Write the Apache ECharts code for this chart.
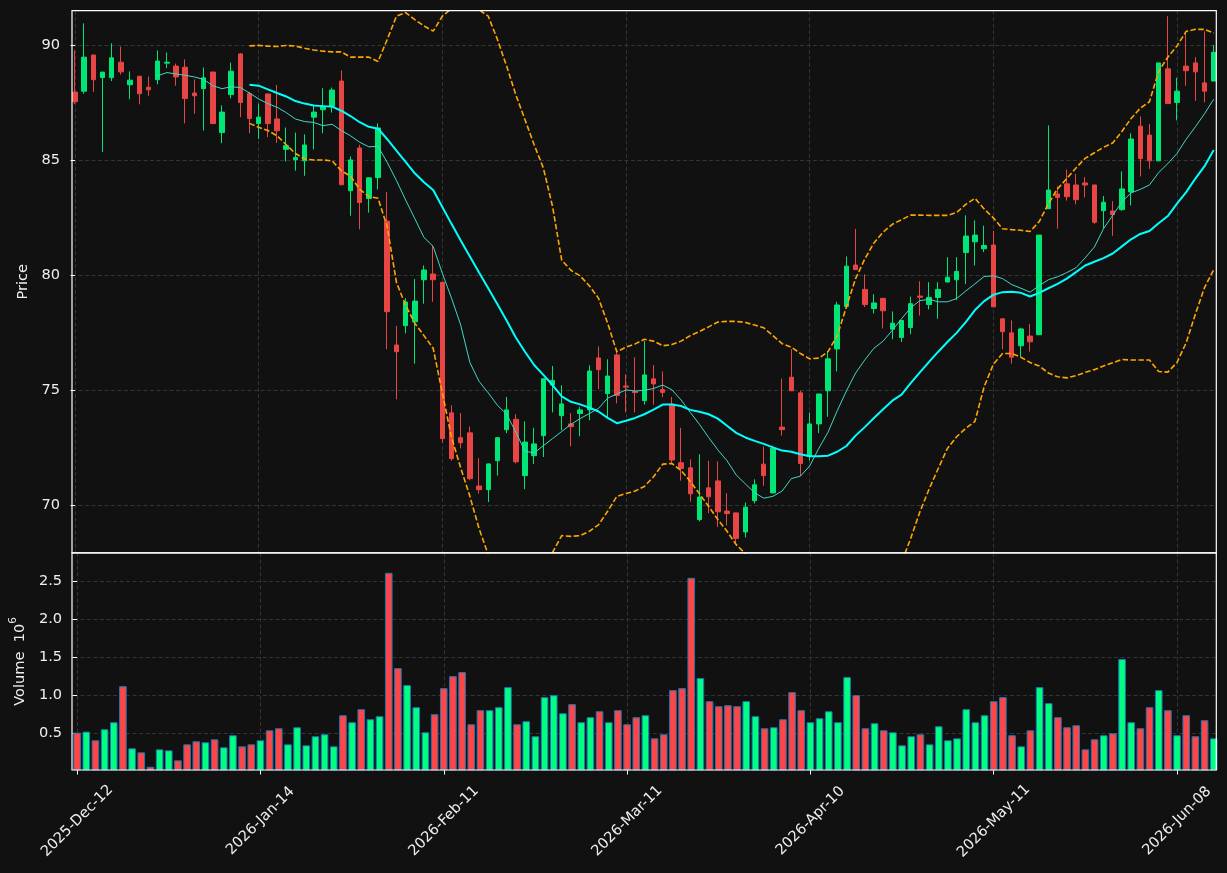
<!DOCTYPE html>
<html>
<head>
<meta charset="utf-8">
<script src="https://cdn.jsdelivr.net/npm/echarts@6/dist/echarts.min.js"></script>
<style>
  html, body { margin: 0; padding: 0; background: #111111; }
  #chart { width: 1227px; height: 873px; }
</style>
</head>
<body>
<div id="chart"></div>
<script>
// daily bars, one per trading day; labelled every 20 bars
const tickLabels = ['2025-Dec-12', '2026-Jan-14', '2026-Feb-11', '2026-Mar-11', '2026-Apr-10', '2026-May-11', '2026-Jun-08'];
const tickIdx = [0, 20, 40, 60, 80, 100, 120];

const opens = [
  87.97, 88.01, 89.58, 88.60, 88.60, 89.27, 88.29, 88.66, 88.18, 88.51,
  89.23, 89.10, 89.05, 87.93, 88.12, 88.84, 86.21, 87.86, 89.63, 87.90,
  86.60, 87.89, 86.80, 85.48, 85.03, 84.98, 86.88, 87.20, 87.36, 88.45,
  83.68, 85.54, 83.34, 84.25, 82.36, 76.97, 77.81, 77.98, 79.81, 80.06,
  79.70, 74.02, 72.94, 73.15, 70.84, 70.68, 71.94, 73.29, 73.74, 71.29,
  72.16, 73.03, 75.23, 73.90, 73.54, 73.99, 74.15, 76.41, 74.86, 76.54,
  75.19, 74.95, 74.55, 75.50, 75.03, 74.40, 71.85, 71.63, 69.38, 70.76,
  71.06, 69.75, 69.67, 68.84, 70.20, 71.79, 70.54, 73.40, 75.57, 74.89,
  72.13, 73.54, 74.98, 76.80, 78.65, 80.45, 79.39, 78.56, 79.00, 77.66,
  77.30, 77.73, 79.10, 78.73, 79.04, 79.71, 79.81, 80.99, 81.46, 81.16,
  81.32, 78.11, 77.50, 76.94, 77.36, 77.42, 82.90, 83.54, 83.98, 83.93,
  84.02, 83.93, 82.81, 82.80, 82.86, 83.63, 86.49, 86.10, 84.98, 88.98,
  87.52, 89.10, 89.24, 88.37, 88.45
];
const highs = [
  89.78, 90.96, 89.61, 88.84, 90.09, 89.95, 88.87, 88.66, 88.65, 89.78,
  89.69, 89.21, 89.39, 88.52, 89.04, 88.86, 87.39, 89.25, 89.67, 87.98,
  87.47, 87.90, 88.28, 86.43, 86.21, 86.13, 87.36, 88.14, 88.17, 88.91,
  85.17, 85.68, 84.26, 86.61, 83.63, 77.80, 79.01, 79.84, 80.43, 81.29,
  79.72, 74.35, 74.01, 73.43, 72.05, 71.82, 72.95, 74.71, 73.96, 73.65,
  73.37, 75.52, 76.06, 75.22, 74.01, 74.27, 76.09, 76.91, 76.35, 76.68,
  75.70, 76.44, 77.14, 76.10, 75.82, 74.71, 73.37, 72.00, 72.22, 71.94,
  71.91, 70.53, 69.68, 70.12, 71.13, 72.56, 72.59, 75.51, 76.79, 74.98,
  74.04, 74.85, 76.68, 78.85, 80.82, 82.02, 80.05, 79.18, 79.01, 78.43,
  78.05, 79.08, 79.74, 79.70, 79.70, 80.79, 80.79, 82.61, 82.39, 82.16,
  81.94, 78.12, 78.04, 77.72, 77.89, 81.76, 86.52, 83.87, 84.60, 84.41,
  84.27, 83.94, 83.45, 83.23, 84.52, 86.18, 86.91, 86.58, 89.25, 91.27,
  88.59, 90.54, 89.49, 90.61, 90.02
];
const lows = [
  87.45, 87.90, 87.98, 85.37, 88.45, 88.73, 87.66, 87.44, 87.81, 88.31,
  89.01, 88.25, 86.61, 87.03, 86.30, 86.58, 85.75, 87.70, 86.88, 86.18,
  85.93, 86.01, 85.76, 84.95, 84.55, 84.33, 85.48, 86.18, 87.08, 83.92,
  82.59, 82.00, 82.73, 83.74, 76.79, 74.61, 77.48, 76.16, 78.77, 78.85,
  72.72, 71.94, 72.48, 71.09, 70.51, 70.14, 71.29, 73.14, 71.82, 70.70,
  71.79, 72.10, 74.04, 73.26, 72.56, 73.00, 73.70, 75.05, 73.80, 74.43,
  74.04, 74.04, 74.38, 74.38, 74.70, 71.79, 71.07, 70.16, 69.30, 69.66,
  69.05, 69.12, 68.29, 68.60, 70.08, 70.85, 70.52, 73.03, 74.97, 71.27,
  71.94, 73.14, 73.85, 75.82, 78.62, 80.24, 78.62, 78.34, 77.69, 77.22,
  77.10, 77.44, 78.25, 78.52, 78.11, 79.70, 78.93, 79.63, 80.43, 81.01,
  78.62, 76.79, 76.16, 76.44, 76.68, 77.41, 82.89, 82.03, 83.25, 83.09,
  83.39, 82.24, 82.03, 81.72, 82.81, 83.04, 84.30, 84.63, 84.97, 87.46,
  86.74, 88.25, 87.59, 87.52, 88.44
];
const closes = [
  87.55, 89.49, 88.51, 88.84, 89.46, 88.85, 88.49, 87.90, 88.07, 89.32,
  89.27, 88.63, 87.69, 87.81, 88.59, 86.60, 87.10, 88.88, 87.52, 86.82,
  86.88, 86.60, 86.29, 85.64, 85.12, 85.67, 87.10, 87.36, 88.06, 83.94,
  85.02, 83.17, 84.24, 86.41, 78.42, 76.68, 78.84, 78.88, 80.23, 79.81,
  72.90, 72.03, 72.72, 71.16, 70.68, 71.80, 72.94, 74.15, 71.89, 72.75,
  72.67, 75.50, 75.43, 74.41, 73.42, 74.15, 75.84, 75.90, 75.62, 74.78,
  75.14, 74.90, 75.67, 75.28, 74.91, 71.97, 71.60, 70.50, 70.36, 70.37,
  69.72, 69.64, 68.56, 69.92, 70.89, 71.29, 72.48, 73.29, 74.98, 71.82,
  73.54, 74.84, 76.37, 78.71, 80.40, 80.25, 78.73, 78.80, 78.46, 77.92,
  78.04, 78.77, 79.05, 79.04, 79.39, 79.92, 80.17, 81.71, 81.75, 81.30,
  78.63, 77.55, 76.44, 77.67, 77.11, 81.75, 83.71, 83.39, 83.42, 83.29,
  83.93, 82.31, 83.18, 82.64, 83.76, 85.93, 85.08, 84.98, 89.24, 87.47,
  88.01, 88.90, 88.85, 88.01, 89.70
];
// volume in millions
const volumes = [
  0.509, 0.522, 0.408, 0.553, 0.645, 1.118, 0.303, 0.250, 0.061, 0.289,
  0.276, 0.145, 0.355, 0.395, 0.382, 0.421, 0.316, 0.474, 0.329, 0.355,
  0.408, 0.539, 0.566, 0.355, 0.579, 0.342, 0.461, 0.487, 0.329, 0.737,
  0.645, 0.816, 0.684, 0.724, 2.605, 1.355, 1.132, 0.842, 0.513, 0.750,
  1.092, 1.250, 1.303, 0.618, 0.803, 0.803, 0.842, 1.105, 0.618, 0.658,
  0.461, 0.974, 1.000, 0.763, 0.882, 0.645, 0.711, 0.789, 0.645, 0.803,
  0.618, 0.711, 0.737, 0.434, 0.487, 1.066, 1.092, 2.539, 1.224, 0.921,
  0.855, 0.868, 0.855, 0.921, 0.724, 0.566, 0.579, 0.684, 1.039, 0.803,
  0.645, 0.697, 0.789, 0.645, 1.237, 1.000, 0.566, 0.632, 0.539, 0.513,
  0.342, 0.461, 0.487, 0.355, 0.592, 0.408, 0.434, 0.816, 0.645, 0.737,
  0.921, 0.974, 0.474, 0.329, 0.539, 1.105, 0.895, 0.711, 0.579, 0.605,
  0.289, 0.421, 0.474, 0.500, 1.474, 0.645, 0.566, 0.842, 1.066, 0.803,
  0.474, 0.737, 0.461, 0.671, 0.434
];

// moving averages / bands as drawn (first value sits on bar index *Start)
const ma10Start = 9;
const ma10 = [
  88.68, 88.82, 88.76, 88.70, 88.63, 88.52, 88.25, 88.12, 88.20, 88.17,
  87.93, 87.67, 87.47, 87.31, 87.08, 86.80, 86.69, 86.65, 86.51, 86.57,
  86.30, 86.07, 85.79, 85.59, 85.61, 84.91, 84.13, 83.28, 82.47, 81.65,
  81.26, 80.09, 79.01, 77.84, 76.21, 75.39, 74.89, 74.35, 73.96, 73.18,
  72.35, 72.28, 72.59, 72.90, 73.21, 73.52, 73.77, 73.99, 74.21, 74.66,
  74.84, 75.02, 74.97, 75.00, 75.08, 75.23, 75.02, 74.58, 74.04, 73.52,
  72.95, 72.41, 71.94, 71.32, 70.93, 70.55, 70.31, 70.39, 70.62, 71.16,
  71.27, 71.71, 72.48, 73.18, 74.11, 74.97, 75.75, 76.32, 76.83, 77.14,
  77.61, 78.11, 78.59, 78.90, 78.96, 78.85, 78.85, 78.99, 79.32, 79.63,
  79.95, 79.98, 79.86, 79.60, 79.44, 79.27, 79.55, 79.81, 79.94, 80.12,
  80.33, 80.76, 81.23, 82.03, 82.61, 83.20, 83.59, 83.74, 83.93, 84.47,
  84.86, 85.30, 85.92, 86.46, 87.03, 87.66
];
const ma20Start = 19;
const ma20 = [
  88.29, 88.25, 88.09, 87.93, 87.78, 87.58, 87.47, 87.39, 87.36, 87.34,
  87.16, 86.93, 86.66, 86.46, 86.38, 85.92, 85.42, 84.94, 84.44, 84.05,
  83.71, 82.97, 82.24, 81.52, 80.82, 80.12, 79.44, 78.74, 78.04, 77.30,
  76.68, 76.10, 75.67, 75.23, 74.74, 74.50, 74.39, 74.25, 74.08, 73.80,
  73.57, 73.68, 73.80, 73.96, 74.16, 74.38, 74.38, 74.32, 74.15, 74.07,
  73.96, 73.77, 73.46, 73.15, 72.95, 72.80, 72.67, 72.52, 72.38, 72.33,
  72.22, 72.13, 72.13, 72.16, 72.33, 72.58, 73.03, 73.40, 73.80, 74.18,
  74.55, 74.81, 75.31, 75.78, 76.24, 76.68, 77.10, 77.50, 77.97, 78.49,
  78.88, 79.15, 79.27, 79.29, 79.24, 79.08, 79.24, 79.44, 79.63, 79.86,
  80.14, 80.43, 80.59, 80.75, 80.95, 81.26, 81.57, 81.80, 81.93, 82.27,
  82.58, 83.12, 83.62, 84.21, 84.75, 85.45
];
const bbStart = 19;
const bbUpper = [
  89.98, 90.00, 89.97, 89.95, 90.00, 89.97, 89.88, 89.80, 89.75, 89.72,
  89.72, 89.49, 89.49, 89.49, 89.30, 90.26, 91.27, 91.43, 91.12, 90.85,
  90.62, 91.27, 91.60, 91.80, 91.80, 91.55, 91.27, 90.26, 89.10, 87.86,
  86.77, 85.68, 84.67, 83.00, 80.66, 80.22, 79.98, 79.55, 79.01, 77.92,
  76.68, 76.88, 77.02, 77.22, 77.14, 76.94, 76.99, 77.14, 77.38, 77.56,
  77.76, 77.97, 78.00, 78.00, 77.95, 77.84, 77.72, 77.38, 77.03, 76.88,
  76.60, 76.37, 76.40, 76.68, 77.38, 78.62, 79.86, 80.71, 81.41, 81.88,
  82.22, 82.42, 82.62, 82.62, 82.61, 82.61, 82.61, 82.73, 83.09, 83.35,
  82.89, 82.50, 82.03, 81.99, 81.96, 81.91, 82.34, 83.12, 83.77, 84.21,
  84.67, 85.09, 85.33, 85.57, 85.76, 86.26, 86.82, 87.27, 87.55, 88.87,
  89.49, 89.98, 90.61, 90.70, 90.70, 90.54
];
const bbLower = [
  86.61, 86.44, 86.30, 86.07, 85.68, 85.30, 85.06, 85.02, 85.02, 84.98,
  84.55, 84.32, 83.74, 83.43, 83.35, 82.11, 79.70, 78.70, 77.92, 77.38,
  76.83, 74.89, 72.95, 71.63, 70.39, 68.99, 67.85, 67.10, 66.80, 66.60,
  66.60, 66.80, 67.30, 67.95, 68.68, 68.65, 68.68, 68.87, 69.15, 69.74,
  70.39, 70.51, 70.62, 70.82, 71.24, 71.79, 71.82, 71.51, 71.04, 70.50,
  69.95, 69.38, 68.87, 68.29, 67.90, 67.60, 67.50, 67.55, 67.65, 67.70,
  67.75, 67.70, 67.60, 67.40, 67.10, 66.60, 66.20, 66.10, 66.20, 66.50,
  66.90, 67.50, 68.56, 69.71, 70.70, 71.60, 72.47, 72.98, 73.35, 73.65,
  75.16, 76.13, 76.60, 76.60, 76.44, 76.21, 76.06, 75.75, 75.59, 75.54,
  75.64, 75.78, 75.90, 76.06, 76.20, 76.34, 76.32, 76.32, 76.32, 75.82,
  75.79, 76.21, 77.07, 78.31, 79.47, 80.25
];

const priceTicks = [70, 75, 80, 85, 90];
const volTicks = [0.5, 1.0, 1.5, 2.0, 2.5];

// colours
const UP = '#00e676', DOWN = '#e84545';
const VOL_UP = '#00ff80', VOL_DOWN = '#ff4545', VOL_EDGE = '#1f77b4';
const TXT = '#eeeeee';
const FONT = 'DejaVu Sans';
const FS = 14.6;

// plot frame (px)
const L = 72, R = 1216.3, T = 10.7, MID = 552.9, B = 770;
const X_MIN = -0.327, X_MAX = 124.28;

const candles = opens.map((o, i) => [i, o, closes[i], lows[i], highs[i]]);
const volData = volumes.map((v, i) => ({
  value: [i, v],
  itemStyle: { color: closes[i] >= opens[i] ? VOL_UP : VOL_DOWN }
}));
const pairs = (arr, start) => arr.map((v, k) => [start + k, v]);

const gridLine = { show: true, lineStyle: { color: '#3e3e3e', type: [4, 2.5], width: 0.8 } };

const chart = echarts.init(document.getElementById('chart'), null, { renderer: 'canvas' });

chart.setOption({
  backgroundColor: '#111111',
  animation: false,
  textStyle: { fontFamily: FONT },
  grid: [
    { left: L, top: T, width: R - L, height: MID - T },
    { left: L, top: MID, width: R - L, height: B - MID }
  ],
  xAxis: [
    {
      type: 'value', gridIndex: 0, min: X_MIN, max: X_MAX,
      axisLine: { show: false },
      axisTick: { show: false, customValues: tickIdx },
      axisLabel: { show: false, customValues: tickIdx },
      splitLine: gridLine
    },
    {
      type: 'value', gridIndex: 1, min: X_MIN, max: X_MAX,
      axisLine: { show: false },
      axisTick: { show: true, length: 4.5, customValues: tickIdx, lineStyle: { color: '#ffffff', width: 1 } },
      axisLabel: {
        customValues: tickIdx, rotate: 45, margin: 51,
        align: 'center', verticalAlign: 'middle',
        color: TXT, fontSize: FS, fontFamily: FONT,
        formatter: (v) => tickLabels[tickIdx.indexOf(Math.round(v))] || ''
      },
      splitLine: gridLine
    }
  ],
  yAxis: [
    {
      type: 'value', gridIndex: 0, min: 67.93, max: 91.51,
      name: 'Price', nameLocation: 'middle', nameGap: 35, nameRotate: 90,
      nameTextStyle: { color: TXT, fontSize: FS, fontFamily: FONT },
      axisLine: { show: false },
      axisTick: { show: true, length: 4.5, customValues: priceTicks, lineStyle: { color: '#ffffff' } },
      axisLabel: { customValues: priceTicks, color: TXT, fontSize: FS, fontFamily: FONT, margin: 12 },
      splitLine: gridLine
    },
    {
      type: 'value', gridIndex: 1, min: 0.0183, max: 2.866,
      name: '{a|Volume  10}{s|6}', nameLocation: 'middle', nameGap: 43, nameRotate: 90,
      nameTextStyle: {
        color: TXT, fontSize: FS, fontFamily: FONT,
        rich: {
          a: { color: TXT, fontSize: FS, fontFamily: FONT, lineHeight: 20, verticalAlign: 'bottom' },
          s: { color: TXT, fontSize: 10.5, fontFamily: FONT, lineHeight: 20, verticalAlign: 'top' }
        }
      },
      axisLine: { show: false },
      axisTick: { show: true, length: 4.5, customValues: volTicks, lineStyle: { color: '#ffffff' } },
      axisLabel: {
        customValues: volTicks, color: TXT, fontSize: FS, fontFamily: FONT, margin: 12,
        formatter: (v) => v.toFixed(1)
      },
      splitLine: gridLine
    }
  ],
  graphic: [
    { type: 'rect', z: 100, silent: true, shape: { x: L, y: T, width: R - L, height: MID - T },
      style: { fill: 'none', stroke: '#ffffff', lineWidth: 1.2 } },
    { type: 'rect', z: 100, silent: true, shape: { x: L, y: MID, width: R - L, height: B - MID },
      style: { fill: 'none', stroke: '#ffffff', lineWidth: 1.2 } }
  ],
  series: [
    {
      name: 'OHLC', type: 'candlestick', xAxisIndex: 0, yAxisIndex: 0,
      data: candles, encode: { x: 0, y: [1, 2, 3, 4] },
      barWidth: 5,
      itemStyle: { color: UP, color0: DOWN, borderColor: UP, borderColor0: DOWN, borderWidth: 1 },
      z: 3
    },
    {
      name: 'MA10', type: 'line', xAxisIndex: 0, yAxisIndex: 0,
      data: pairs(ma10, ma10Start), showSymbol: false,
      lineStyle: { color: '#40d8c8', width: 1 }, z: 4
    },
    {
      name: 'MA20', type: 'line', xAxisIndex: 0, yAxisIndex: 0,
      data: pairs(ma20, ma20Start), showSymbol: false,
      lineStyle: { color: '#00ffff', width: 2 }, z: 4
    },
    {
      name: 'BB upper', type: 'line', xAxisIndex: 0, yAxisIndex: 0,
      data: pairs(bbUpper, bbStart), showSymbol: false,
      lineStyle: { color: '#ffa500', width: 1.6, type: [5.5, 2.4] }, z: 4
    },
    {
      name: 'BB lower', type: 'line', xAxisIndex: 0, yAxisIndex: 0,
      data: pairs(bbLower, bbStart), showSymbol: false,
      lineStyle: { color: '#ffa500', width: 1.6, type: [5.5, 2.4] }, z: 4
    },
    {
      name: 'Volume', type: 'bar', xAxisIndex: 1, yAxisIndex: 1,
      data: volData, barWidth: 7.6,
      itemStyle: { borderColor: VOL_EDGE, borderWidth: 1 }
    }
  ]
});
</script>
</body>
</html>
